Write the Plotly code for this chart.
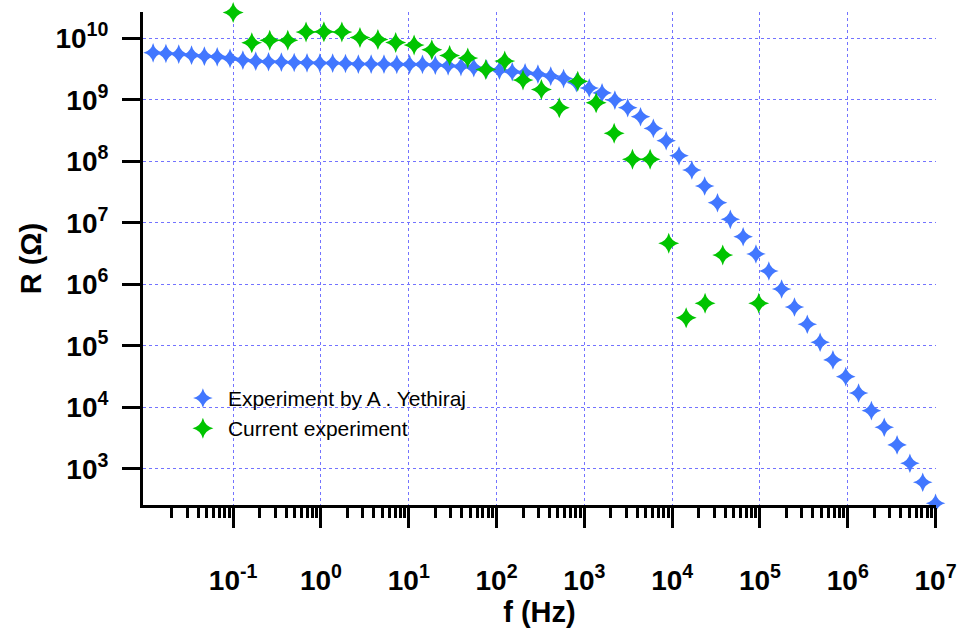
import plotly.graph_objects as go

# ---- data ----
freq_yethiraj = [0.01225, 0.01714, 0.02399, 0.03357, 0.04698, 0.0658, 0.0921, 0.1290,
                 0.1806, 0.2528, 0.3539, 0.4955, 0.6936, 0.9710, 1.359, 1.903, 2.664,
                 3.729, 5.221, 7.309, 10.23, 14.32, 20.05, 28.07, 39.30, 55.01, 77.01,
                 107.8, 150.9, 211.3, 295.8, 414.0, 579.7, 811.5, 1136, 1590, 2226,
                 3116, 4362, 6106, 8548, 11967, 16753, 23452, 32830, 45960, 64340,
                 90070, 126100, 176500, 247100, 345900, 484200, 677800, 948900,
                 1.328e6, 1.859e6, 2.603e6, 3.644e6, 5.102e6, 7.142e6, 1.0e7]
r_yethiraj = [5.83e9, 5.70e9, 5.56e9, 5.35e9, 5.15e9, 5.02e9, 4.73e9, 4.44e9,
              4.27e9, 4.17e9, 4.12e9, 4.07e9, 4.01e9, 3.97e9, 3.97e9, 3.92e9, 3.82e9,
              3.82e9, 3.82e9, 3.78e9, 3.78e9, 3.78e9, 3.68e9, 3.58e9, 3.48e9, 3.35e9,
              3.17e9, 3.05e9, 2.87e9, 2.76e9, 2.63e9, 2.44e9, 2.22e9, 1.91e9, 1.56e9,
              1.30e9, 9.93e8, 7.44e8, 5.31e8, 3.44e8, 2.16e8, 1.23e8, 7.22e7, 3.97e7,
              2.12e7, 1.14e7, 5.94e6, 3.11e6, 1.65e6, 8.39e5, 4.28e5, 2.24e5, 1.14e5,
              5.89e4, 3.15e4, 1.71e4, 8.81e3, 4.74e3, 2.44e3, 1.23e3, 6.04e2, 2.75e2]

freq_current = [0.100, 0.163, 0.261, 0.419, 0.676, 1.08, 1.73, 2.78, 4.45, 7.10,
                11.5, 18.3, 29.2, 47.0, 75.4, 124, 200, 324, 518, 841, 1361, 2184,
                3530, 5610, 9140, 14430, 23710, 37670, 96900]
r_current = [2.65e10, 8.47e9, 9.38e9, 9.38e9, 1.27e10, 1.28e10, 1.27e10, 1.04e10,
             9.63e9, 8.61e9, 7.79e9, 6.53e9, 5.29e9, 4.79e9, 3.13e9, 4.28e9, 2.10e9,
             1.48e9, 7.45e8, 2.02e9, 8.98e8, 2.88e8, 1.08e8, 1.08e8, 4.64e6, 2.87e5,
             4.91e5, 2.99e6, 4.91e5]

x_major_exp = [-1, 0, 1, 2, 3, 4, 5, 6, 7]
y_major_exp = [3, 4, 5, 6, 7, 8, 9, 10]
x_tick_text = ["10<sup>%d</sup>" % e for e in x_major_exp]
y_tick_text = ["10<sup>%d</sup>" % e for e in y_major_exp]

series_names = ["Experiment by A . Yethiraj", "Current experiment"]

# ---- styles ----
BLUE = "#4277ff"
GREEN = "#00c400"
GRID = "rgb(115,115,255)"
FONT = "Liberation Sans, Arial, sans-serif"

x_minor = [m * 10.0 ** d for d in range(-2, 7) for m in range(2, 10)]

fig = go.Figure()
fig.add_trace(go.Scatter(x=freq_yethiraj, y=r_yethiraj, mode="markers",
                         name=series_names[0], cliponaxis=False,
                         marker=dict(symbol="star-diamond", size=14, color=BLUE,
                                     line=dict(width=0))))
fig.add_trace(go.Scatter(x=freq_current, y=r_current, mode="markers",
                         name=series_names[1], cliponaxis=False,
                         marker=dict(symbol="star-diamond", size=15, color=GREEN,
                                     line=dict(width=0))))

fig.update_layout(
    width=962, height=632,
    margin=dict(l=143, r=26, t=12, b=127),
    paper_bgcolor="white", plot_bgcolor="white",
    font=dict(family=FONT, color="black"),
    showlegend=True,
    legend=dict(x=0.044, y=0.258, xanchor="left", yanchor="top",
                bgcolor="rgba(0,0,0,0)", font=dict(size=21, family=FONT, color="black"),
                itemwidth=40, tracegroupgap=0),
)

fig.update_xaxes(
    type="log", range=[-2.027, 7.005], automargin=False,
    tickmode="array", tickvals=[10.0 ** e for e in x_major_exp], ticktext=x_tick_text,
    ticks="outside", ticklen=20, tickwidth=3, tickcolor="black",
    tickfont=dict(size=28, family=FONT, weight="bold", color="black"),
    ticklabelstandoff=28,
    showline=True, linewidth=3, linecolor="black",
    showgrid=True, gridcolor=GRID, gridwidth=1, griddash="dot",
    zeroline=False,
    minor=dict(tickmode="array", tickvals=x_minor, ticks="outside", ticklen=10,
               tickwidth=2.5, tickcolor="black", showgrid=False),
    title=dict(text="f (Hz)", font=dict(size=29, family=FONT, weight="bold", color="black"),
               standoff=4),
)
fig.update_yaxes(
    type="log", range=[2.41, 10.43], automargin=False,
    tickmode="array", tickvals=[10.0 ** e for e in y_major_exp], ticktext=y_tick_text,
    ticks="outside", ticklen=18, tickwidth=3, tickcolor="black",
    tickfont=dict(size=28, family=FONT, weight="bold", color="black"),
    ticklabelstandoff=8,
    showline=True, linewidth=3, linecolor="black",
    showgrid=True, gridcolor=GRID, gridwidth=1, griddash="dot",
    zeroline=False,
    title=dict(text="R (Ω)", font=dict(size=29, family=FONT, weight="bold", color="black"),
               standoff=6),
)

fig.write_html("out.html")
